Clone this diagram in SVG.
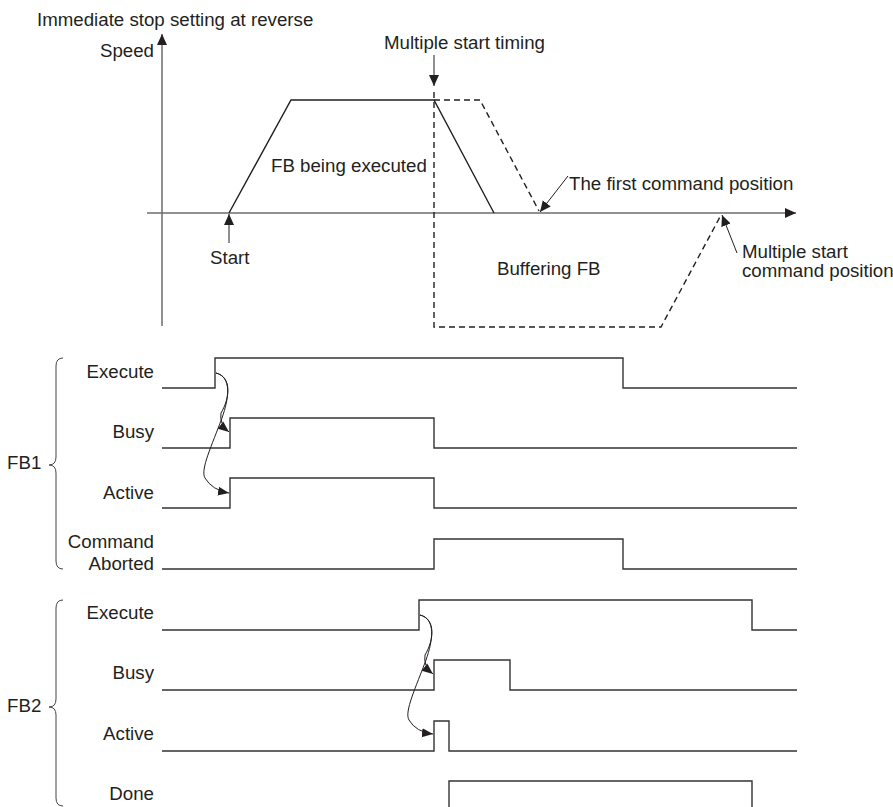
<svg xmlns="http://www.w3.org/2000/svg" width="893" height="807" viewBox="0 0 893 807">
<style>
text{font-family:"Liberation Sans",Arial,sans-serif;font-size:18.7px;fill:#231f20}
.r{text-anchor:end}
.sig{fill:none;stroke:#333;stroke-width:1.4}
.prof{fill:none;stroke:#231f20;stroke-width:1.4}
.dash{fill:none;stroke:#231f20;stroke-width:1.4;stroke-dasharray:6 4}
.axis{fill:none;stroke:#6d6d6d;stroke-width:1.5}
.thin{fill:none;stroke:#231f20;stroke-width:1}
.brace{fill:none;stroke:#444;stroke-width:1}
</style>
<defs>
<marker id="ah" markerUnits="userSpaceOnUse" markerWidth="12" markerHeight="12" viewBox="0 0 12 12" refX="11" refY="6" orient="auto">
<path d="M0,1 L11,6 L0,11 Z" fill="#231f20"/>
</marker>
<marker id="ahs" markerUnits="userSpaceOnUse" markerWidth="12" markerHeight="12" viewBox="0 0 12 12" refX="11" refY="6" orient="auto">
<path d="M0,1.5 L11,6 L0,10.5 Z" fill="#231f20"/>
</marker>
</defs>

<g id="speed-chart">
<text x="37" y="26">Immediate stop setting at reverse</text>
<text class="r" x="154" y="57">Speed</text>
<text x="384" y="49">Multiple start timing</text>
<line class="axis" x1="162" y1="326" x2="162" y2="34" marker-end="url(#ah)"/>
<line class="axis" x1="147" y1="213" x2="796" y2="213" marker-end="url(#ah)"/>
<polyline class="prof" points="229,213 291,100 434,100 494,213"/>
<polyline class="dash" points="434,100 480,100 539,211"/>
<polyline class="dash" points="434,92 434,327 661,327 721,215"/>
<line class="thin" x1="434" y1="55" x2="434" y2="86" marker-end="url(#ah)"/>
<text x="271" y="172">FB being executed</text>
<line class="thin" x1="229" y1="243" x2="229" y2="214" marker-end="url(#ah)"/>
<text x="210" y="264">Start</text>
<text x="497" y="275">Buffering FB</text>
<line class="thin" x1="568" y1="176" x2="540" y2="212" marker-end="url(#ah)"/>
<text x="569" y="190">The first command position</text>
<line class="thin" x1="737" y1="253" x2="722" y2="215" marker-end="url(#ah)"/>
<text x="742" y="258">Multiple start</text>
<text x="742" y="277">command position</text>
</g>

<g id="fb1">
<text x="7" y="469">FB1</text>
<path class="brace" d="M63,358 Q56,358 56,366 L56,457 Q56,465 49,465 Q56,465 56,473 L56,561 Q56,569 63,569"/>
<g id="fb1-execute"><text class="r" x="154" y="378">Execute</text>
<polyline class="sig" points="162,388 215,388 215,358 623,358 623,388 797,388"/></g>
<g id="fb1-busy"><text class="r" x="154" y="438">Busy</text>
<polyline class="sig" points="162,448 230,448 230,418 434,418 434,448 797,448"/></g>
<g id="fb1-active"><text class="r" x="154" y="499">Active</text>
<polyline class="sig" points="162,508 230,508 230,478 434,478 434,508 797,508"/></g>
<g id="fb1-aborted"><text class="r" x="154" y="548">Command</text><text class="r" x="154" y="570">Aborted</text>
<polyline class="sig" points="162,569 434,569 434,539 623,539 623,569 797,569"/></g>
</g>

<g id="fb2">
<text x="7" y="712">FB2</text>
<path class="brace" d="M63,600 Q56,600 56,608 L56,699 Q56,707 49,707 Q56,707 56,715 L56,798 Q56,806 63,806"/>
<g id="fb2-execute"><text class="r" x="154" y="619">Execute</text>
<polyline class="sig" points="162,630 419,630 419,600 752,600 752,630 797,630"/></g>
<g id="fb2-busy"><text class="r" x="154" y="679">Busy</text>
<polyline class="sig" points="162,690 434,690 434,660 510,660 510,690 797,690"/></g>
<g id="fb2-active"><text class="r" x="154" y="740">Active</text>
<polyline class="sig" points="162,751 434,751 434,721 449,721 449,751 797,751"/></g>
<g id="fb2-done"><text class="r" x="154" y="800">Done</text>
<polyline class="sig" points="449,812 449,781 752,781 752,812"/></g>
</g>

<g id="connectors">
<path class="thin" d="M216,373 C232,377 230,398 221,413 Q219,424 229,432" marker-end="url(#ahs)"/>
<path class="thin" d="M216,373 C232,377 229,398 222,418 C212,445 200,470 205,478 Q212,490 229,493" marker-end="url(#ahs)"/>
<path class="thin" d="M420,615 C436,619 434,640 425,655 Q423,666 433,674" marker-end="url(#ahs)"/>
<path class="thin" d="M420,615 C436,619 433,640 426,660 C416,687 404,712 409,720 Q416,732 433,734" marker-end="url(#ahs)"/>
</g>
</svg>
